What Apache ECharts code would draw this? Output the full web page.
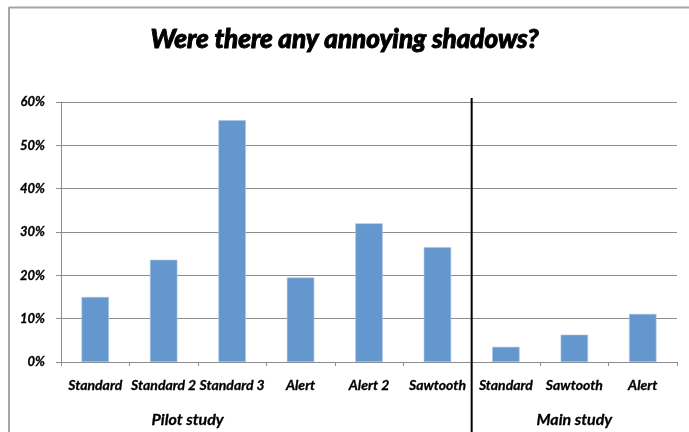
<!DOCTYPE html>
<html>
<head>
<meta charset="utf-8">
<script src="https://cdn.jsdelivr.net/npm/echarts@6/dist/echarts.min.js"></script>
<style>
html,body{margin:0;padding:0;background:#fff;}
#chart{width:689px;height:432px;}
</style>
</head>
<body>
<div id="chart"></div>
<script>
var titleText = 'Were there any annoying shadows?';
var categories = ['Standard', 'Standard 2', 'Standard 3', 'Alert', 'Alert 2', 'Sawtooth', 'Standard', 'Sawtooth', 'Alert'];
var values = [0.150, 0.236, 0.558, 0.195, 0.320, 0.265, 0.035, 0.063, 0.111];
var groupLabels = ['Pilot study', 'Main study'];
var yTicks = [0, 0.1, 0.2, 0.3, 0.4, 0.5, 0.6];
var pilotCount = 6;

var font = 'Lato, "Open Sans", sans-serif';
var chart = echarts.init(document.getElementById('chart'));
chart.setOption({
  animation: false,
  backgroundColor: '#ffffff',
  title: {
    text: titleText,
    left: 'center',
    top: 22,
    textStyle: {fontFamily: font, fontSize: 26, fontWeight: 900, fontStyle: 'italic', color: '#000',
      textBorderColor: '#000', textBorderWidth: 0.9}
  },
  grid: {left: 61, right: 12, top: 102, bottom: 70},
  xAxis: {
    type: 'category',
    data: categories,
    axisLine: {lineStyle: {color: '#8c8c8c', width: 1}},
    axisTick: {show: true, length: 4, lineStyle: {color: '#8c8c8c'}},
    axisLabel: {
      interval: 0, margin: 16, color: '#000',
      fontFamily: font, fontSize: 14, fontWeight: 'bold', fontStyle: 'italic',
      textBorderColor: '#000', textBorderWidth: 0.3
    }
  },
  yAxis: {
    type: 'value',
    min: yTicks[0],
    max: yTicks[yTicks.length - 1],
    interval: 0.1,
    axisLine: {show: true, lineStyle: {color: '#8c8c8c', width: 1}},
    axisTick: {show: true, length: 5, lineStyle: {color: '#8c8c8c'}},
    splitLine: {lineStyle: {color: '#8c8c8c', width: 1}},
    axisLabel: {
      margin: 16, color: '#000',
      fontFamily: font, fontSize: 13, fontWeight: 'bold', fontStyle: 'italic',
      textBorderColor: '#000', textBorderWidth: 0.3,
      formatter: function (v) { return Math.round(v * 100) + '%'; }
    }
  },
  series: [{
    type: 'bar',
    data: values,
    barWidth: '40%',
    itemStyle: {color: '#6497cd', borderColor: '#a9c4e4', borderWidth: 0.6}
  }]
});

// separator and group labels positioned through the axis scale
var xA = chart.convertToPixel({xAxisIndex: 0}, 0);
var xB = chart.convertToPixel({xAxisIndex: 0}, 1);
var band = xB - xA;
var sepX = chart.convertToPixel({xAxisIndex: 0}, pilotCount - 1) + band / 2;
var topY = chart.convertToPixel({yAxisIndex: 0}, yTicks[yTicks.length - 1]);
var mainCenter = (chart.convertToPixel({xAxisIndex: 0}, pilotCount) + chart.convertToPixel({xAxisIndex: 0}, categories.length - 1)) / 2;
var pilotCenter = chart.convertToPixel({xAxisIndex: 0}, 1) + band * 0.35;

var groupStyle = {align: 'center', verticalAlign: 'middle', fontFamily: font, fontSize: 16, fontWeight: 'bold', fontStyle: 'italic', fill: '#000', stroke: '#000', lineWidth: 0.3};
chart.setOption({
  graphic: [
    {type: 'line', shape: {x1: 9, y1: 7.5, x2: 689, y2: 7.5}, style: {stroke: '#a6a6a6', lineWidth: 2}, silent: true},
    {type: 'line', shape: {x1: 9, y1: 7, x2: 9, y2: 432}, style: {stroke: '#a6a6a6', lineWidth: 2}, silent: true},
    {type: 'line', shape: {x1: sepX, y1: topY - 4, x2: sepX, y2: 432}, style: {stroke: '#000', lineWidth: 2}, z: 10, silent: true},
    {type: 'text', x: pilotCenter, y: 420, style: Object.assign({text: groupLabels[0]}, groupStyle)},
    {type: 'text', x: mainCenter, y: 420, style: Object.assign({text: groupLabels[1]}, groupStyle)}
  ]
});
</script>
</body>
</html>
